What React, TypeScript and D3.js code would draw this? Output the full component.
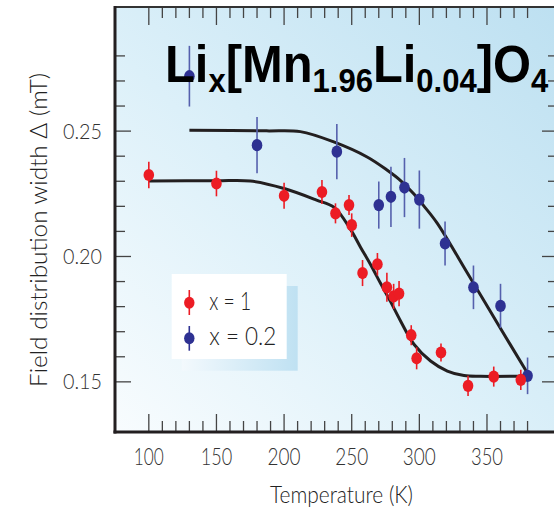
import React from "react";
import * as d3 from "d3";

const redT = [100, 150, 200, 228, 238, 248, 250, 258, 269, 276, 281, 285, 294, 298, 316, 336, 355, 375];
const redV = [0.2325, 0.2291, 0.2242, 0.2257, 0.2172, 0.2205, 0.2125, 0.1934, 0.1969, 0.1877, 0.1841, 0.1852, 0.1686, 0.1594, 0.1617, 0.1484, 0.1521, 0.1508];
const redErr = [0.0053, 0.0051, 0.0052, 0.0048, 0.004, 0.004, 0.0047, 0.0052, 0.0045, 0.0058, 0.005, 0.005, 0.004, 0.0044, 0.0036, 0.004, 0.004, 0.004];

const blueT = [130, 180, 239, 270, 279, 289, 300, 319, 340, 360, 380];
const blueV = [0.2719, 0.2444, 0.2418, 0.2205, 0.2238, 0.2275, 0.2227, 0.2052, 0.1877, 0.1803, 0.1524];
const blueErr = [0.0121, 0.0112, 0.011, 0.0094, 0.012, 0.0118, 0.0116, 0.0088, 0.0087, 0.0088, 0.0073];

const fitRedT = [100, 150, 175, 200, 224, 237, 249, 256.5, 264, 271.3, 278.7, 286, 296, 308.3, 320.7, 333, 345.4, 380];
const fitRedV = [0.2301, 0.2302, 0.2301, 0.2271, 0.2225, 0.2196, 0.2109, 0.2037, 0.1967, 0.1893, 0.182, 0.1744, 0.165, 0.1583, 0.1543, 0.1525, 0.1522, 0.1523];

const fitBlueT = [130, 187, 212, 236.7, 261.4, 276.3, 286.1, 296, 303.4, 313.3, 335.5, 357.7, 380];
const fitBlueV = [0.2503, 0.2501, 0.2498, 0.2457, 0.2397, 0.2344, 0.2303, 0.2249, 0.2201, 0.2132, 0.1934, 0.1734, 0.1534];

const xTickLabels = ["100", "150", "200", "250", "300", "350"];
const yTickLabels = ["0.25", "0.20", "0.15"];
const legendLabels = ["x = 1", "x = 0.2"];

const RED = "#ec1c24";
const BLUE = "#2e3192";
const BLUE_BAR = "#5560ad";
const INK = "#231f20";
const LIGHT = "Lato, 'Open Sans', sans-serif";

export default function App() {
  const left = 115, right = 558, top = 7, bottom = 432;
  const x = d3.scaleLinear().domain([75, 402.5]).range([left, right]);
  const y = d3.scaleLinear().domain([0.13, 0.2995]).range([bottom, top]);

  const xTicks = d3.range(100, 381, 10);
  const yTicks = d3.range(15, 29).map((d) => d / 100);

  const fitPath = (ts: number[], vs: number[]) =>
    d3
      .line<[number, number]>()
      .x((d) => x(d[0]))
      .y((d) => y(d[1]))
      .curve(d3.curveCatmullRom.alpha(0.5))(ts.map((t, i) => [t, vs[i]]) as [number, number][]);

  const points = (ts: number[], vs: number[], es: number[], color: string, bar: string, key: string) =>
    ts.map((t, i) => (
      <g key={key + i}>
        <line x1={x(t)} x2={x(t)} y1={y(vs[i] + es[i])} y2={y(vs[i] - es[i])} stroke={bar} strokeWidth={1.6} />
        <ellipse cx={x(t)} cy={y(vs[i])} rx={5.3} ry={6.1} fill={color} />
      </g>
    ));

  const xLabelWidths = [30, 31.5, 33, 33, 33, 32];

  return (
    <svg width={554} height={515} style={{ position: "absolute", left: 0, top: 0 }}>
      <defs>
        <linearGradient id="bg" x1="0" y1="1" x2="1" y2="0">
          <stop offset="0" stopColor="#f8fcfe" />
          <stop offset="0.45" stopColor="#dcf0f9" />
          <stop offset="1" stopColor="#bde0f1" />
        </linearGradient>
        <linearGradient id="shadow" x1="0" y1="0" x2="1" y2="0">
          <stop offset="0" stopColor="#f3f9fd" />
          <stop offset="1" stopColor="#bfe1f2" />
        </linearGradient>
      </defs>
      <rect x={0} y={0} width={554} height={515} fill="#ffffff" />
      <rect x={left} y={top} width={right - left} height={bottom - top} fill="url(#bg)" />

      {xTicks.map((t) => {
        const major = t % 50 === 0;
        const len = major ? 18 : 11;
        return (
          <g key={"xt" + t} stroke="#444" strokeWidth={1.3}>
            <line x1={x(t)} x2={x(t)} y1={bottom} y2={bottom - len} />
            <line x1={x(t)} x2={x(t)} y1={top} y2={top + len} />
          </g>
        );
      })}
      {yTicks.map((v) => {
        const major = Math.round(v * 100) % 5 === 0;
        const len = major ? 16 : 10;
        return (
          <g key={"yt" + v} stroke="#444" strokeWidth={1.3}>
            <line x1={left} x2={left + len} y1={y(v)} y2={y(v)} />
            <line x1={right} x2={right - len} y1={y(v)} y2={y(v)} />
          </g>
        );
      })}

      <line x1={left} x2={right} y1={top} y2={top} stroke="#333" strokeWidth={2.2} />
      <line x1={left} x2={left} y1={top - 1} y2={bottom + 1.5} stroke={INK} strokeWidth={3} />
      <line x1={left - 1.5} x2={right} y1={bottom} y2={bottom} stroke={INK} strokeWidth={3} />

      {xTickLabels.map((s, i) => (
        <text
          key={"xl" + s}
          x={x(+s)}
          y={465}
          textAnchor="middle"
          fontFamily={LIGHT}
          fontWeight={300}
          fontSize={23}
          fill="#333"
          textLength={xLabelWidths[i]}
          lengthAdjust="spacingAndGlyphs"
        >
          {s}
        </text>
      ))}
      {yTickLabels.map((s) => (
        <text
          key={"yl" + s}
          x={102}
          y={y(+s) + 7.5}
          textAnchor="end"
          fontFamily={LIGHT}
          fontWeight={300}
          fontSize={21}
          fill="#333"
          textLength={39}
          lengthAdjust="spacingAndGlyphs"
        >
          {s}
        </text>
      ))}

      <text
        x={341.5}
        y={503}
        textAnchor="middle"
        fontFamily={LIGHT}
        fontWeight={300}
        fontSize={23}
        fill="#222"
        textLength={143}
        lengthAdjust="spacingAndGlyphs"
      >
        Temperature (K)
      </text>
      <text
        transform="translate(47,230) rotate(-90)"
        textAnchor="middle"
        fontFamily={LIGHT}
        fontWeight={300}
        fontSize={24}
        fill="#222"
        textLength={314}
        lengthAdjust="spacingAndGlyphs"
      >
        Field distribution width Δ (mT)
      </text>

      <path d={fitPath(fitBlueT, fitBlueV) || ""} fill="none" stroke={INK} strokeWidth={3} />
      <path d={fitPath(fitRedT, fitRedV) || ""} fill="none" stroke={INK} strokeWidth={3} />

      {points(blueT, blueV, blueErr, BLUE, BLUE_BAR, "b")}
      {points(redT, redV, redErr, RED, RED, "r")}

      <rect x={181.7} y={286} width={116} height={84.7} fill="url(#shadow)" />
      <rect x={171.7} y={274} width={115} height={85} fill="#ffffff" />
      <line x1={189.3} x2={189.3} y1={290} y2={315} stroke={RED} strokeWidth={1.6} />
      <ellipse cx={189.3} cy={302.7} rx={5.2} ry={6} fill={RED} />
      <line x1={189.3} x2={189.3} y1={326} y2={350.7} stroke={BLUE} strokeWidth={1.6} />
      <ellipse cx={189.3} cy={338.3} rx={5.2} ry={6} fill={BLUE} />
      <text x={209.3} y={310} fontFamily={LIGHT} fontWeight={300} fontSize={25} fill="#222" textLength={42} lengthAdjust="spacingAndGlyphs">
        {legendLabels[0]}
      </text>
      <text x={209.3} y={345} fontFamily={LIGHT} fontWeight={300} fontSize={25} fill="#222" textLength={67} lengthAdjust="spacingAndGlyphs">
        {legendLabels[1]}
      </text>

      <g transform="translate(165,82) scale(0.94,1)">
        <text
          x={0}
          y={0}
          fontFamily="'Liberation Sans', Arial, sans-serif"
          fontWeight="bold"
          fontSize={52}
          fill="#000"
        >
          Li
          <tspan fontSize={33} dy={10}>x</tspan>
          <tspan dy={-10}>[Mn</tspan>
          <tspan fontSize={33} dy={10}>1.96</tspan>
          <tspan dy={-10}>Li</tspan>
          <tspan fontSize={33} dy={10}>0.04</tspan>
          <tspan dy={-10}>]O</tspan>
          <tspan fontSize={33} dy={10}>4</tspan>
        </text>
      </g>
    </svg>
  );
}
